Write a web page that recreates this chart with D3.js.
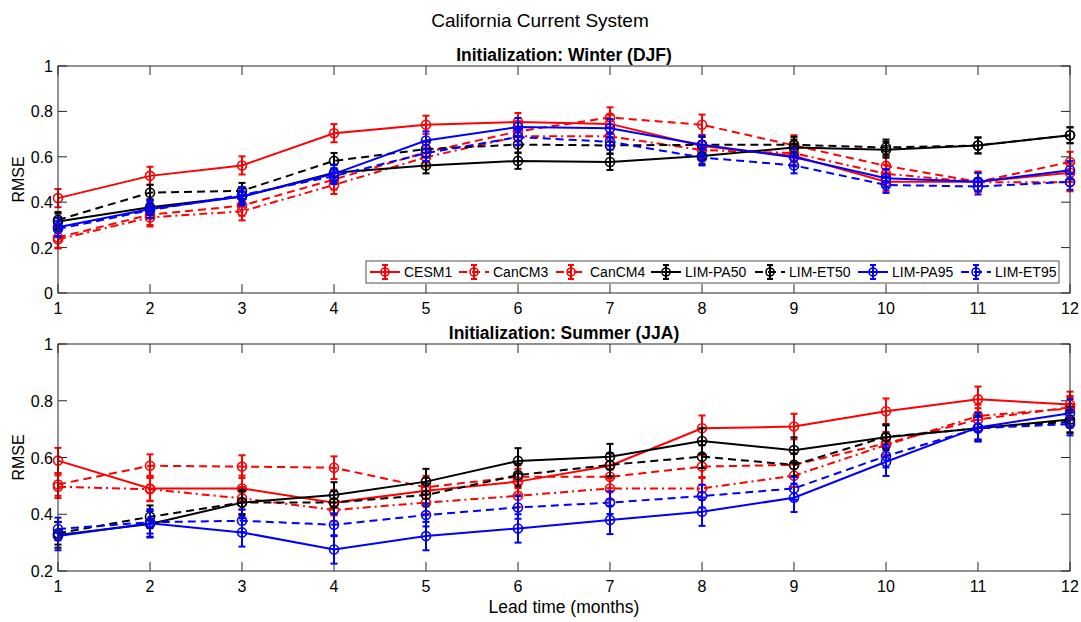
<!DOCTYPE html>
<html>
<head>
<meta charset="utf-8">
<script src="https://cdn.jsdelivr.net/npm/d3@7"></script>
<style>
  body { margin: 0; background: #fff; }
  svg text { font-family: "Liberation Sans", Arial, sans-serif; fill: #000; }
</style>
</head>
<body>
<div id="chart"></div>
<script>
// lead times (months)
const leads = [1, 2, 3, 4, 5, 6, 7, 8, 9, 10, 11, 12];
const names = ["CESM1", "CanCM3", "CanCM4", "LIM-PA50", "LIM-ET50", "LIM-PA95", "LIM-ET95"];

// Winter (DJF) initialization
const winterCESM1   = [0.418, 0.516, 0.562, 0.704, 0.741, 0.753, 0.745, 0.648, 0.604, 0.490, 0.490, 0.530];
const winterCanCM3  = [0.245, 0.345, 0.385, 0.500, 0.620, 0.712, 0.773, 0.741, 0.650, 0.560, 0.490, 0.577];
const winterCanCM4  = [0.236, 0.333, 0.360, 0.476, 0.598, 0.690, 0.690, 0.630, 0.616, 0.525, 0.488, 0.488];
const winterPA50    = [0.315, 0.378, 0.425, 0.530, 0.562, 0.582, 0.577, 0.604, 0.641, 0.631, 0.650, 0.695];
const winterET50    = [0.322, 0.442, 0.450, 0.582, 0.634, 0.654, 0.650, 0.653, 0.653, 0.641, 0.650, 0.695];
const winterPA95    = [0.290, 0.370, 0.425, 0.525, 0.672, 0.731, 0.726, 0.653, 0.598, 0.506, 0.490, 0.541];
const winterET95    = [0.282, 0.365, 0.432, 0.515, 0.616, 0.687, 0.666, 0.597, 0.562, 0.476, 0.469, 0.490];

// Summer (JJA) initialization
const summerCESM1   = [0.589, 0.491, 0.491, 0.441, 0.483, 0.515, 0.571, 0.703, 0.709, 0.763, 0.805, 0.787];
const summerCanCM3  = [0.505, 0.571, 0.568, 0.564, 0.495, 0.532, 0.532, 0.568, 0.574, 0.650, 0.734, 0.777];
const summerCanCM4  = [0.497, 0.488, 0.456, 0.415, 0.441, 0.465, 0.491, 0.491, 0.536, 0.644, 0.746, 0.773];
const summerPA50    = [0.327, 0.366, 0.441, 0.468, 0.515, 0.588, 0.603, 0.658, 0.626, 0.671, 0.703, 0.734];
const summerET50    = [0.333, 0.391, 0.441, 0.441, 0.468, 0.538, 0.574, 0.603, 0.574, 0.673, 0.703, 0.726];
const summerPA95    = [0.323, 0.368, 0.336, 0.276, 0.323, 0.350, 0.380, 0.409, 0.458, 0.585, 0.706, 0.756];
const summerET95    = [0.348, 0.372, 0.377, 0.363, 0.397, 0.424, 0.441, 0.464, 0.491, 0.605, 0.703, 0.718];

// error bar half widths, one per series
const winterErr = [0.040, 0.045, 0.040, 0.035, 0.035, 0.040, 0.035];
const summerErr = [0.045, 0.040, 0.040, 0.045, 0.040, 0.050, 0.040];

const winterTicks = [0, 0.2, 0.4, 0.6, 0.8, 1];
const summerTicks = [0.2, 0.4, 0.6, 0.8, 1];

// line styles per series
const colors = ["#ff0000", "#ff0000", "#ff0000", "#000000", "#000000", "#0000ff", "#0000ff"];
const dashes = [null, "8,5", "8,4,2,4", null, "8,5", null, "8,5"];

const w = 1081, h = 622;
const left = 58, right = 1070;

const svg = d3.select("#chart").append("svg")
  .attr("width", w)
  .attr("height", h);

const x = d3.scaleLinear().domain([1, 12]).range([left, right]);

svg.append("text")
  .attr("x", 540).attr("y", 27)
  .attr("text-anchor", "middle")
  .attr("font-size", 19)
  .text("California Current System");

function panel(series, errs, yDomain, ticks, top, bottom, title, showLegend) {
  const y = d3.scaleLinear().domain(yDomain).range([bottom, top]);
  const g = svg.append("g");

  g.append("rect")
    .attr("x", left).attr("y", top)
    .attr("width", right - left).attr("height", bottom - top)
    .attr("fill", "#fff");

  // ticks inward on all four sides
  const tl = 9;
  leads.forEach(t => {
    g.append("line").attr("x1", x(t)).attr("x2", x(t)).attr("y1", bottom).attr("y2", bottom - tl)
      .attr("stroke", "#262626");
    g.append("line").attr("x1", x(t)).attr("x2", x(t)).attr("y1", top).attr("y2", top + tl)
      .attr("stroke", "#262626");
    g.append("text").attr("x", x(t)).attr("y", bottom + 21)
      .attr("text-anchor", "middle").attr("font-size", 16).text(t);
  });
  ticks.forEach(t => {
    g.append("line").attr("x1", left).attr("x2", left + tl).attr("y1", y(t)).attr("y2", y(t))
      .attr("stroke", "#262626");
    g.append("line").attr("x1", right).attr("x2", right - tl).attr("y1", y(t)).attr("y2", y(t))
      .attr("stroke", "#262626");
    g.append("text").attr("x", left - 5).attr("y", y(t) + 6)
      .attr("text-anchor", "end").attr("font-size", 16).text(t);
  });

  g.append("text")
    .attr("transform", `translate(24, ${(top + bottom) / 2}) rotate(-90)`)
    .attr("text-anchor", "middle")
    .attr("font-size", 16)
    .text("RMSE");

  g.append("text")
    .attr("x", (left + right) / 2).attr("y", top - 5)
    .attr("text-anchor", "middle")
    .attr("font-size", 17.5)
    .attr("font-weight", "bold")
    .text(title);

  const line = d3.line().x((d, i) => x(leads[i])).y(d => y(d));

  series.forEach((vals, s) => {
    const sg = g.append("g");
    sg.append("path")
      .attr("d", line(vals))
      .attr("fill", "none")
      .attr("stroke", colors[s])
      .attr("stroke-width", 2)
      .attr("stroke-dasharray", dashes[s]);
    vals.forEach((v, i) => {
      const cx = x(leads[i]);
      const y0 = y(v - errs[s]), y1 = y(v + errs[s]);
      sg.append("line").attr("x1", cx).attr("x2", cx).attr("y1", y0).attr("y2", y1)
        .attr("stroke", colors[s]).attr("stroke-width", 2);
      [y0, y1].forEach(yy => sg.append("line")
        .attr("x1", cx - 3.5).attr("x2", cx + 3.5).attr("y1", yy).attr("y2", yy)
        .attr("stroke", colors[s]).attr("stroke-width", 2));
      sg.append("circle").attr("cx", cx).attr("cy", y(v)).attr("r", 4.5)
        .attr("fill", "none").attr("stroke", colors[s]).attr("stroke-width", 1.6);
    });
  });

  g.append("rect")
    .attr("x", left).attr("y", top)
    .attr("width", right - left).attr("height", bottom - top)
    .attr("fill", "none").attr("stroke", "#262626").attr("stroke-width", 1);

  if (showLegend) {
    const lg = g.append("g");
    lg.append("rect")
      .attr("x", 366).attr("y", 261).attr("width", 693).attr("height", 22)
      .attr("fill", "#fff").attr("stroke", "#262626").attr("stroke-width", 0.8);
    const itemX = [370, 459, 556, 651, 755, 858, 961];
    const ly = 272;
    names.forEach((n, s) => {
      const x0 = itemX[s];
      lg.append("line").attr("x1", x0).attr("x2", x0 + 30).attr("y1", ly).attr("y2", ly)
        .attr("stroke", colors[s]).attr("stroke-width", 2).attr("stroke-dasharray", dashes[s]);
      const mx = x0 + 15;
      lg.append("line").attr("x1", mx).attr("x2", mx).attr("y1", ly - 7).attr("y2", ly + 7)
        .attr("stroke", colors[s]).attr("stroke-width", 2);
      [ly - 7, ly + 7].forEach(yy => lg.append("line")
        .attr("x1", mx - 3).attr("x2", mx + 3).attr("y1", yy).attr("y2", yy)
        .attr("stroke", colors[s]).attr("stroke-width", 2));
      lg.append("circle").attr("cx", mx).attr("cy", ly).attr("r", 4)
        .attr("fill", "none").attr("stroke", colors[s]).attr("stroke-width", 1.6);
      lg.append("text").attr("x", x0 + 34).attr("y", ly + 5)
        .attr("font-size", 14).text(n);
    });
  }
}

panel([winterCESM1, winterCanCM3, winterCanCM4, winterPA50, winterET50, winterPA95, winterET95],
  winterErr, [0, 1], winterTicks, 66, 293, "Initialization: Winter (DJF)", true);

panel([summerCESM1, summerCanCM3, summerCanCM4, summerPA50, summerET50, summerPA95, summerET95],
  summerErr, [0.2, 1], summerTicks, 344, 571, "Initialization: Summer (JJA)", false);

svg.append("text")
  .attr("x", (left + right) / 2).attr("y", 613)
  .attr("text-anchor", "middle")
  .attr("font-size", 17.5)
  .text("Lead time (months)");
</script>
</body>
</html>
